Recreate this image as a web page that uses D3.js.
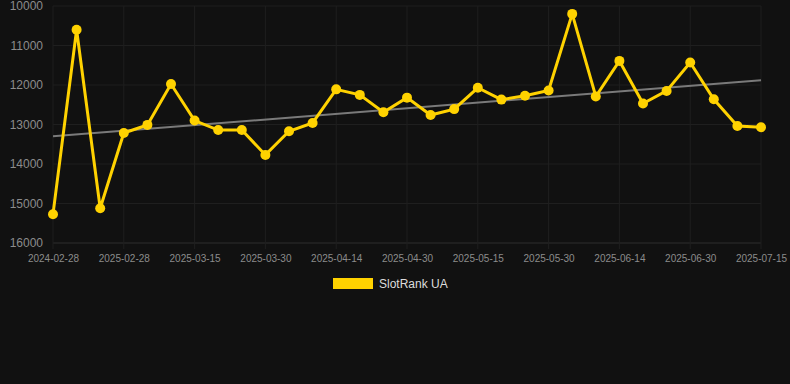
<!DOCTYPE html>
<html>
<head>
<meta charset="utf-8">
<script src="https://cdn.jsdelivr.net/npm/d3@7"></script>
<style>
  html, body { margin: 0; padding: 0; background: #111111; }
  svg { display: block; font-family: "Liberation Sans", Arial, sans-serif; }
</style>
</head>
<body>
<div id="chart"></div>
<script>
// data
var dates = [
  "2024-02-28", "d1", "d2", "2025-02-28", "d4", "d5", "2025-03-15", "d7", "d8",
  "2025-03-30", "d10", "d11", "2025-04-14", "d13", "d14", "2025-04-30", "d16", "d17",
  "2025-05-15", "d19", "d20", "2025-05-30", "d22", "d23", "2025-06-14", "d25", "d26",
  "2025-06-30", "d28", "d29", "2025-07-15"
];
var ranks = [
  15270, 10600, 15120, 13215, 13010, 11975, 12900, 13140, 13140,
  13770, 13170, 12960, 12110, 12250, 12690, 12320, 12760, 12610,
  12070, 12370, 12270, 12140, 10200, 12290, 11390, 12470, 12150,
  11430, 12360, 13040, 13070
];
var yTicks = [10000, 11000, 12000, 13000, 14000, 15000, 16000];
var seriesName = "SlotRank UA";

var W = 790, H = 384;
var margin = {top: 6, right: 29, bottom: 141, left: 53},
  width = W - margin.left - margin.right,
  height = H - margin.top - margin.bottom;

var svg = d3.select("#chart").append("svg")
  .attr("width", W)
  .attr("height", H);

svg.append("rect").attr("width", W).attr("height", H).attr("fill", "#111111");

var g = svg.append("g")
  .attr("transform", "translate(" + margin.left + "," + margin.top + ")");

// category x scale, one slot per point
var x = d3.scalePoint().domain(d3.range(ranks.length)).range([0, width]);
// rank axis runs downward
var y = d3.scaleLinear().domain([10000, 16000]).range([0, height]);

var tickIdx = d3.range(0, ranks.length, 3);

// grid
g.append("g").selectAll("line")
  .data(yTicks)
  .enter().append("line")
  .attr("x1", 0).attr("x2", width)
  .attr("y1", function(d) { return y(d); })
  .attr("y2", function(d) { return y(d); })
  .attr("stroke", function(d) { return d === 16000 ? "#2e2e2e" : "#1f1f1f"; })
  .attr("stroke-width", 1);

g.append("g").selectAll("line")
  .data(tickIdx)
  .enter().append("line")
  .attr("x1", function(d) { return x(d); })
  .attr("x2", function(d) { return x(d); })
  .attr("y1", 0).attr("y2", height + 6)
  .attr("stroke", "#1f1f1f");

// y axis labels
var yAxis = g.append("g")
  .call(d3.axisLeft(y).tickValues(yTicks).tickSize(0).tickPadding(10).tickFormat(d3.format("d")));
yAxis.select(".domain").remove();
yAxis.selectAll("text")
  .attr("fill", "#8c8c8c")
  .style("font-size", "12px")
  .style("font-family", "Liberation Sans, Arial, sans-serif");

// x axis labels
var xAxis = g.append("g")
  .attr("transform", "translate(0," + height + ")")
  .call(d3.axisBottom(x).tickValues(tickIdx).tickSize(0).tickPadding(12)
    .tickFormat(function(i) { return dates[i]; }));
xAxis.select(".domain").remove();
xAxis.selectAll("text")
  .attr("fill", "#8c8c8c")
  .style("font-size", "10px")
  .style("font-family", "Liberation Sans, Arial, sans-serif");

// trend line (least squares over point index)
var n = ranks.length;
var mx = d3.mean(d3.range(n)), my = d3.mean(ranks);
var sxy = d3.sum(ranks, function(v, i) { return (i - mx) * (v - my); });
var sxx = d3.sum(d3.range(n), function(i) { return (i - mx) * (i - mx); });
var slope = sxy / sxx, icpt = my - slope * mx;

g.append("line")
  .attr("x1", x(0)).attr("y1", y(icpt))
  .attr("x2", x(n - 1)).attr("y2", y(icpt + slope * (n - 1)))
  .attr("stroke", "#7a7a7a")
  .attr("stroke-width", 2);

// the series
var line = d3.line()
  .x(function(d, i) { return x(i); })
  .y(function(d) { return y(d); });

g.append("path")
  .datum(ranks)
  .attr("fill", "none")
  .attr("stroke", "#ffd200")
  .attr("stroke-width", 3)
  .attr("d", line);

g.selectAll("circle")
  .data(ranks)
  .enter().append("circle")
  .attr("cx", function(d, i) { return x(i); })
  .attr("cy", function(d) { return y(d); })
  .attr("r", 5)
  .attr("fill", "#ffd200");

// legend
var legend = svg.append("g").attr("transform", "translate(333,278)");
legend.append("rect")
  .attr("width", 40).attr("height", 11)
  .attr("fill", "#ffd200");
legend.append("text")
  .attr("x", 46).attr("y", 6)
  .attr("dy", "0.35em")
  .attr("fill", "#dddddd")
  .style("font-size", "12px")
  .text(seriesName);
</script>
</body>
</html>
